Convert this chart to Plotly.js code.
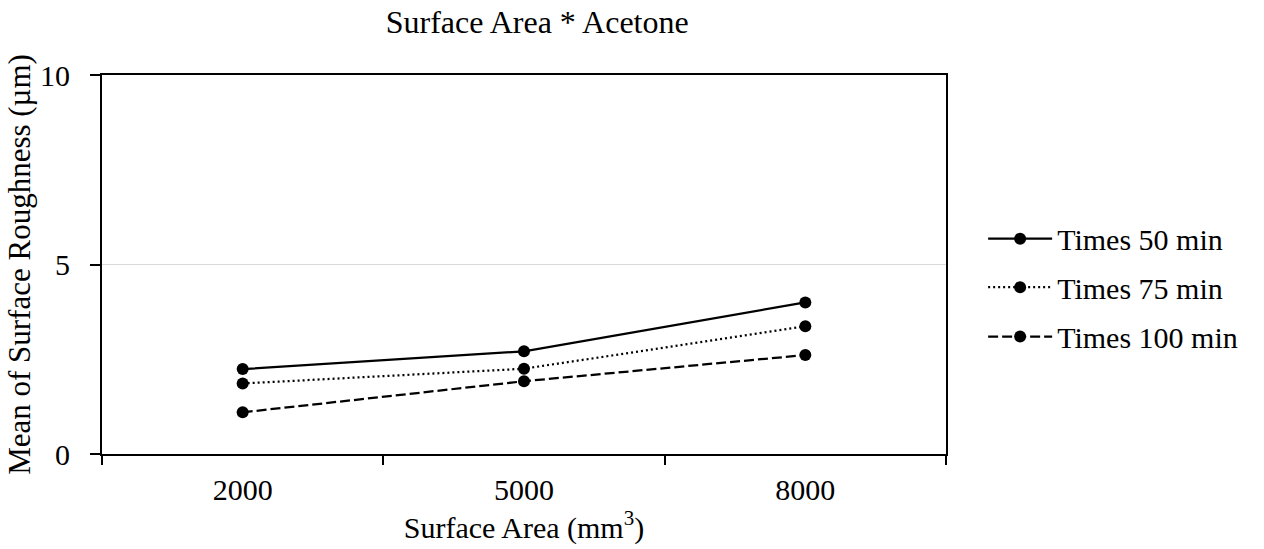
<!DOCTYPE html>
<html>
<head>
<meta charset="utf-8">
<script src="https://cdn.plot.ly/plotly-3.0.1.min.js"></script>
<style>html,body{margin:0;padding:0;background:#fff;}#chart{width:1264px;height:549px;}</style>
</head>
<body>
<div id="chart"></div>
<script>
const categories = ["2000", "5000", "8000"];
const seriesNames = ["Times 50 min", "Times 75 min", "Times 100 min"];
const times50 = [2.24, 2.71, 4.00];
const times75 = [1.86, 2.25, 3.37];
const times100 = [1.10, 1.92, 2.61];
const yTicks = [0, 5, 10];

const dashes = ["solid", "2px,3px", "10px,4px"];
const allValues = [times50, times75, times100];
const legendIds = ["legend", "legend2", "legend3"];
const legendY = [0.568, 0.44, 0.31];
const font = "'Liberation Serif', 'Times New Roman', serif";
const F = 30;

const traces = allValues.map((vals, i) => ({
  x: categories,
  y: vals,
  name: seriesNames[i],
  type: "scatter",
  mode: "lines+markers",
  legend: legendIds[i],
  line: {color: "#000", width: 2.25, dash: dashes[i]},
  marker: {color: "#000", size: 12}
}));

const layout = {
  width: 1264, height: 549,
  margin: {l: 102, r: 318, t: 75, b: 95},
  paper_bgcolor: "#fff", plot_bgcolor: "#fff",
  font: {family: font, size: F, color: "#000"},
  title: {text: "Surface Area * Acetone", font: {family: font, size: 32, color: "#000"}, x: 0.425, xanchor: "center", y: 0.96, yanchor: "middle"},
  showlegend: true,
  xaxis: {
    type: "category", range: [-0.5, 2.5], tickson: "boundaries",
    ticks: "outside", ticklen: 9, tickwidth: 2, tickcolor: "#000",
    ticklabelstandoff: 8,
    showline: true, linecolor: "#000", linewidth: 2, mirror: true,
    showgrid: false, zeroline: false,
    tickfont: {family: font, size: F, color: "#000"},
    title: {text: "Surface Area (mm<sup>3</sup>)", font: {family: font, size: F, color: "#000"}, standoff: 2}
  },
  yaxis: {
    range: [0, 10], tickvals: yTicks, ticktext: yTicks.map(String),
    ticks: "outside", ticklen: 10, tickwidth: 2, tickcolor: "#000",
    ticklabelstandoff: 14,
    showline: true, linecolor: "#000", linewidth: 2, mirror: true,
    showgrid: true, gridcolor: "#d9d9d9", gridwidth: 1, zeroline: false,
    tickfont: {family: font, size: F, color: "#000"},
    title: {text: "Mean of Surface Roughness (µm)", font: {family: font, size: 31, color: "#000"}, standoff: 0}
  }
};
legendIds.forEach((id, i) => {
  layout[id] = {x: 1.044, xanchor: "left", y: legendY[i], yanchor: "middle",
    itemwidth: 64, font: {family: font, size: F, color: "#000"}, bgcolor: "rgba(0,0,0,0)"};
});

Plotly.newPlot("chart", traces, layout, {displayModeBar: false, staticPlot: true});
</script>
</body>
</html>
